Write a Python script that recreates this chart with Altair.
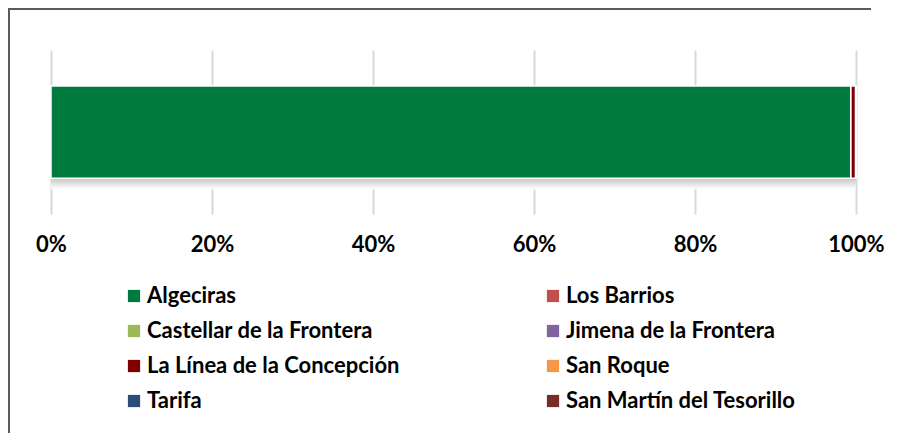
import altair as alt
import pandas as pd

municipios = ["Algeciras", "Los Barrios", "Castellar de la Frontera", "Jimena de la Frontera",
              "La Línea de la Concepción", "San Roque", "Tarifa", "San Martín del Tesorillo"]
valores = [99.35, 0.02, 0.0, 0.0, 0.58, 0.05, 0.0, 0.0]
colores = ["#007A3D", "#C0504D", "#9BBB59", "#8064A2", "#7F0000", "#F79646", "#2C4D75", "#772C2A"]
ticks = [0, 0.2, 0.4, 0.6, 0.8, 1.0]

# legend is laid out column-major, so list the items column by column
orden_leyenda = [0, 2, 4, 6, 1, 3, 5, 7]
dominio = [municipios[i] for i in orden_leyenda]
rango = [colores[i] for i in orden_leyenda]

df = pd.DataFrame({"municipio": municipios, "valor": valores,
                   "orden": list(range(len(municipios))), "fila": ["1"] * len(municipios)})
total = pd.DataFrame({"fila": ["1"], "inicio": [0.0], "fin": [1.0]})

FONT = "Lato"
FS = 22

base = alt.Chart(pd.DataFrame({"a": [0]}))
frame_top = base.mark_rule(stroke="#5a5a5a", strokeWidth=2).encode(
    x=alt.value(-42), x2=alt.value(820), y=alt.value(-41))
frame_left = base.mark_rule(stroke="#5a5a5a", strokeWidth=2).encode(
    x=alt.value(-42), y=alt.value(-42), y2=alt.value(420))

yenc = alt.Y("fila:N", axis=None, scale=alt.Scale(paddingInner=0.28, paddingOuter=0.28))

shadow = alt.Chart(total).mark_bar(
    yOffset=11,
    color=alt.Gradient(gradient="linear", x1=0, x2=0, y1=0, y2=1,
                       stops=[alt.GradientStop(offset=0.8, color="#ffffff"),
                              alt.GradientStop(offset=0.88, color="#c4c4c4"),
                              alt.GradientStop(offset=1.0, color="#ffffff")]),
).encode(x=alt.X("inicio:Q"), x2="fin:Q", y=yenc)

bars = alt.Chart(df).mark_bar(stroke="white", strokeWidth=1.5).encode(
    x=alt.X("valor:Q", stack="normalize",
            scale=alt.Scale(domain=[0, 1], nice=False),
            axis=alt.Axis(values=ticks, format=".0%", title=None, domain=False, ticks=False,
                          grid=True, gridColor="#d9d9d9", gridWidth=2,
                          labelFont=FONT, labelFontSize=FS, labelFontWeight="bold",
                          labelColor="#000000", labelPadding=20, labelFlush=False)),
    y=yenc,
    color=alt.Color("municipio:N", sort=dominio,
                    scale=alt.Scale(domain=dominio, range=rango),
                    legend=alt.Legend(title=None, orient="none", legendX=72, legendY=235,
                                      columns=2, columnPadding=142, rowPadding=13,
                                      symbolType="square", symbolSize=150, symbolStrokeWidth=0,
                                      labelFont=FONT, labelFontSize=FS, labelFontWeight="bold",
                                      labelColor="#000000", labelOffset=2, labelLimit=400)),
    order=alt.Order("orden:Q"),
)

chart = alt.layer(frame_top, frame_left, shadow, bars).properties(
    width=805, height=164,
    autosize=alt.AutoSizeParams(type="none"),
    padding={"left": 43, "top": 42, "right": 35, "bottom": 219},
    background="white",
).configure_view(stroke=None)

chart.save("out.html", embed_options={"renderer": "svg", "actions": False})
